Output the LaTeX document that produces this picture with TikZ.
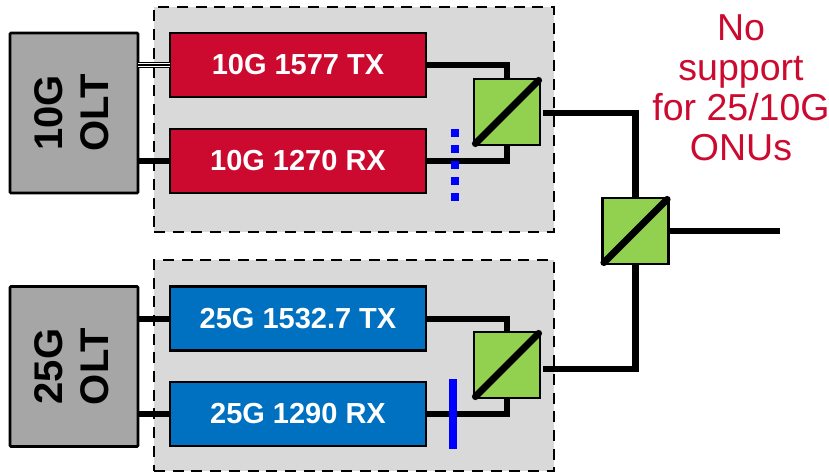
\documentclass[tikz,border=0pt]{standalone}
\usepackage{fontspec}
\setmainfont{Liberation Sans}
\definecolor{cred}{HTML}{CC0A2F}
\definecolor{cblue}{HTML}{0070C0}
\definecolor{cgreen}{HTML}{92D050}
\definecolor{cgray}{HTML}{A6A6A6}
\definecolor{cpanel}{HTML}{D9D9D9}
\definecolor{cline}{HTML}{0000FF}
\tikzset{
  panel/.style={draw=black,fill=cpanel,line width=2.8pt,dash pattern=on 11pt off 7.7pt,minimum width=400pt,outer sep=0pt,inner sep=0pt},
  olt/.style={draw=black,fill=cgray,line width=2.8pt,rounded corners=1pt,minimum width=128pt,minimum height=160pt,outer sep=0pt,inner sep=0pt},
  oltlabel/.style={rotate=90,align=center,font=\fontsize{40}{46}\selectfont\bfseries,text=black},
  module/.style={draw=black,line width=2.8pt,minimum width=256pt,minimum height=64pt,outer sep=0pt,inner sep=0pt,text=white,font=\fontsize{29}{32}\selectfont\bfseries},
  redmod/.style={module,fill=cred},
  bluemod/.style={module,fill=cblue},
  splitter/.style={draw=black,fill=cgreen,line width=2.8pt,minimum width=66pt,minimum height=66pt,outer sep=0pt,inner sep=0pt},
  diag/.style={line width=7pt,line cap=round,black,shorten >=2pt,shorten <=2pt},
  wire/.style={line width=6pt,black},
  note/.style={align=center,text=cred,font=\fontsize{37.5}{40}\selectfont},
}
\begin{document}
\begin{tikzpicture}[x=1pt,y=-1pt]
\useasboundingbox (0,0) rectangle (829,473);
\node[panel,minimum height=225pt] (p1) at (354,119.5) {};
\node[panel,minimum height=211pt] (p2) at (354,365.5) {};
\node[olt] (o1) at (74,113) {};
\node[oltlabel] (o1t) at (72,113) {10G\\OLT};
\node[olt] (o2) at (74,366.5) {};
\node[oltlabel] (o2t) at (72,366.5) {25G\\OLT};
\node[redmod] (r1) at (298,65) {\raisebox{-1pt}{10G 1577 TX}};
\node[redmod] (r2) at (298,161) {\raisebox{-1pt}{10G 1270 RX}};
\node[bluemod] (b1) at (298,318.5) {\raisebox{-1pt}{25G 1532.7 TX}};
\node[bluemod] (b2) at (298,414) {\raisebox{-1pt}{25G 1290 RX}};
\node[splitter] (s1) at (507,112) {};
\node[splitter] (s2) at (507,365) {};
\node[splitter] (s3) at (635.5,231) {};
\coordinate (e3) at (780,231);
\coordinate (s1out) at (543,113);
\coordinate (s2out) at (543,369);
\coordinate (d1) at (454.5,129);
\coordinate (d2) at (454.5,201);
\coordinate (f1) at (452.5,379);
\coordinate (f2) at (452.5,449);
\draw[black,line width=5.6pt] (o1.east |- r1.west) -- (r1.west);
\draw[white,line width=3.4pt] (o1.east |- r1.west) -- (r1.west);
\draw[black,line width=1.2pt] (o1.east |- r1.west) -- (r1.west);
\draw[wire] (o1.east |- r2.west) -- (r2.west);
\draw[wire] (o2.east |- b1.west) -- (b1.west);
\draw[wire] (o2.east |- b2.west) -- (b2.west);
\draw[wire] (r1.east) -| (s1.north);
\draw[wire] (r2.east) -| (s1.south);
\draw[wire] (b1.east) -| (s2.north);
\draw[wire] (b2.east) -| (s2.south);
\draw[wire,line width=6.5pt] (s1out) -| (s3.north);
\draw[wire,line width=6.5pt] (s2out) -| (s3.south);
\draw[wire] (s3.east) -- (e3);
\draw[diag] (s1.south west) -- (s1.north east);
\draw[diag] (s2.south west) -- (s2.north east);
\draw[diag] (s3.south west) -- (s3.north east);
\draw[cline,line width=8pt,dash pattern=on 8pt off 8pt] (d1) -- (d2);
\draw[cline,line width=8pt] (f1) -- (f2);
\node[note] (n) at (741,88) {No\\support\\for 25/10G\\ONUs};
\end{tikzpicture}
\end{document}
